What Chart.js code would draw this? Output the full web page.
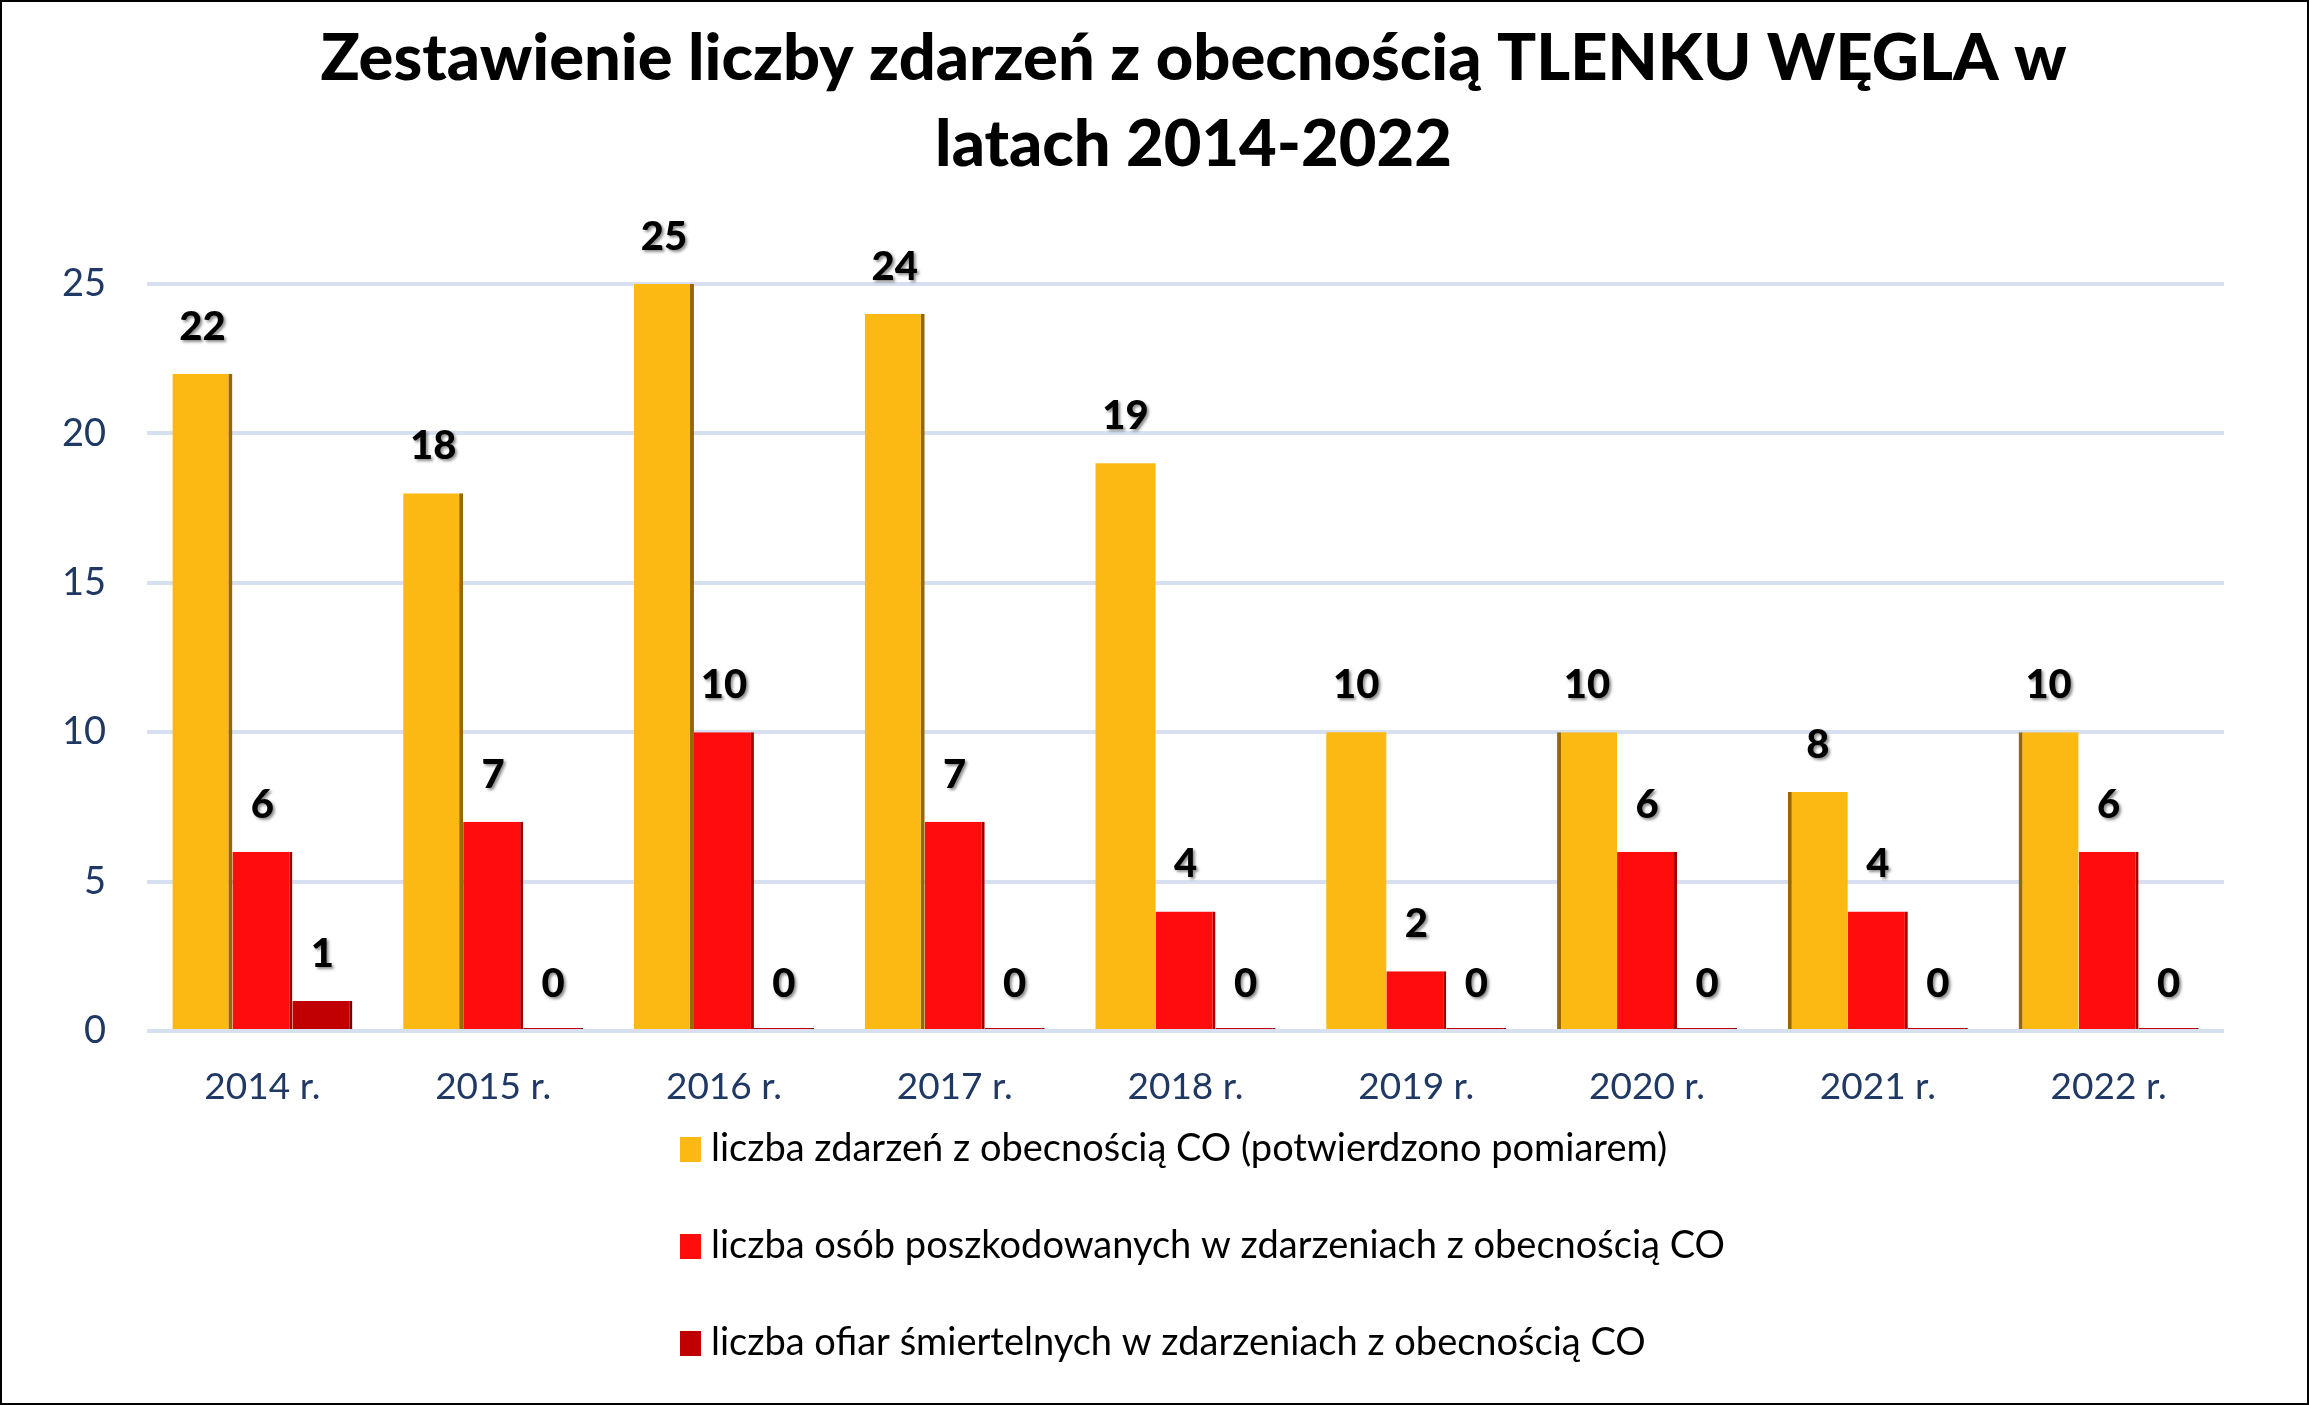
<!DOCTYPE html>
<html>
<head>
<meta charset="utf-8">
<script src="https://cdn.jsdelivr.net/npm/chart.js@4.4.1/dist/chart.umd.min.js"></script>
<style>
  html, body { margin: 0; padding: 0; background: #fff; }
  #ramka { width: 2309px; height: 1405px; box-sizing: border-box; border: 2px solid #000; position: relative; }
  #wykres { display: block; }
</style>
</head>
<body>
<div id="ramka"><canvas id="wykres" width="2305" height="1401"></canvas></div>
<script>
// dane
const lata = ['2014 r.', '2015 r.', '2016 r.', '2017 r.', '2018 r.', '2019 r.', '2020 r.', '2021 r.', '2022 r.'];
const zdarzenia = [22, 18, 25, 24, 19, 10, 10, 8, 10];
const poszkodowani = [6, 7, 10, 7, 4, 2, 6, 4, 6];
const ofiary = [1, 0, 0, 0, 0, 0, 0, 0, 0];
const nazwySerii = [
    'liczba zdarzeń z obecnością CO (potwierdzono pomiarem)',
    'liczba osób poszkodowanych w zdarzeniach z obecnością CO',
    'liczba ofiar śmiertelnych w zdarzeniach z obecnością CO'
];
const tytul = ['Zestawienie liczby zdarzeń z obecnością TLENKU WĘGLA w', 'latach 2014-2022'];
const osY = { min: 0, max: 25, krok: 5 };

const kolory = ['rgb(253,185,19)', 'rgb(255,12,12)', 'rgb(192,0,0)'];
const krawedzie = ['rgb(150,105,0)', 'rgb(165,0,0)', 'rgb(115,0,0)'];
const FONT = 'Lato, "Open Sans", sans-serif';

// krawedz "3D": z prawej dla lewych slupkow, z lewej dla prawych
function krawedz(ctx) {
    const i = ctx.dataIndex;
    if (i <= 3) return { top: 0, right: 4, bottom: 0, left: 0 };
    if (i >= 6) return { top: 0, right: 0, bottom: 0, left: 4 };
    return 0;
}

const etykietyPlugin = {
    id: 'etykiety',
    afterDatasetsDraw(chart) {
        const ctx = chart.ctx;
        const y = chart.scales.y;
        ctx.save();
        ctx.font = '900 40px ' + FONT;
        ctx.fillStyle = '#000';
        ctx.textAlign = 'center';
        ctx.textBaseline = 'middle';
        ctx.shadowColor = 'rgba(0,0,0,0.45)';
        ctx.shadowOffsetX = 2;
        ctx.shadowOffsetY = 2;
        ctx.shadowBlur = 3;
        chart.data.datasets.forEach((ds, di) => {
            const meta = chart.getDatasetMeta(di);
            meta.data.forEach((el, i) => {
                const v = ds.data[i];
                ctx.fillText(String(v), el.x, y.getPixelForValue(v) - 47);
            });
        });
        ctx.restore();
    }
};

const tytulLegendaPlugin = {
    id: 'tytulLegenda',
    afterDraw(chart) {
        const ctx = chart.ctx;
        const a = chart.chartArea;
        ctx.save();
        // tytul
        ctx.font = '900 65px ' + FONT;
        ctx.fillStyle = '#000';
        ctx.textAlign = 'center';
        ctx.textBaseline = 'middle';
        const cx = (a.left + a.right) / 2 + 8;
        tytul.forEach((t, i) => ctx.fillText(t, cx, 57 + i * 86));
        // legenda
        ctx.font = '38px ' + FONT;
        ctx.textAlign = 'left';
        chart.data.datasets.forEach((ds, i) => {
            const ly = a.bottom + 118 + i * 97;
            ctx.fillStyle = ds.backgroundColor;
            ctx.fillRect(678, ly - 12, 21, 25);
            ctx.fillStyle = '#000';
            ctx.fillText(ds.label, 709, ly);
        });
        ctx.restore();
    }
};

const ctx = document.getElementById('wykres').getContext('2d');
const wykres = new Chart(ctx, {
    type: 'bar',
    data: {
        labels: lata,
        datasets: [
            { label: nazwySerii[0], data: zdarzenia, backgroundColor: kolory[0], borderColor: krawedzie[0], borderWidth: krawedz },
            { label: nazwySerii[1], data: poszkodowani, backgroundColor: kolory[1], borderColor: krawedzie[1], borderWidth: { top: 0, right: 3, bottom: 0, left: 0 } },
            { label: nazwySerii[2], data: ofiary, backgroundColor: kolory[2], borderColor: krawedzie[2], borderWidth: { top: 0, right: 3, bottom: 0, left: 0 }, minBarLength: 3 }
        ]
    },
    options: {
        responsive: false,
        animation: false,
        devicePixelRatio: 1,
        layout: { padding: { top: 282, right: 83, left: 0, bottom: 0 } },
        datasets: { bar: { categoryPercentage: 0.78, barPercentage: 1, borderSkipped: false } },
        plugins: {
            legend: { display: false },
            title: { display: false },
            tooltip: { enabled: false }
        },
        scales: {
            x: {
                grid: { display: false },
                border: { display: false },
                ticks: { color: '#1F3864', font: { family: FONT, size: 37 }, padding: 26 },
                afterFit: (s) => { s.height = 372; }
            },
            y: {
                min: osY.min,
                max: osY.max,
                grid: { color: 'rgb(214,224,240)', lineWidth: 4, drawTicks: false },
                border: { display: false },
                ticks: { stepSize: osY.krok, color: '#1F3864', font: { family: FONT, size: 38 }, padding: 41 },
                afterFit: (s) => { s.width = 145; }
            }
        }
    },
    plugins: [etykietyPlugin, tytulLegendaPlugin]
});
</script>
</body>
</html>
